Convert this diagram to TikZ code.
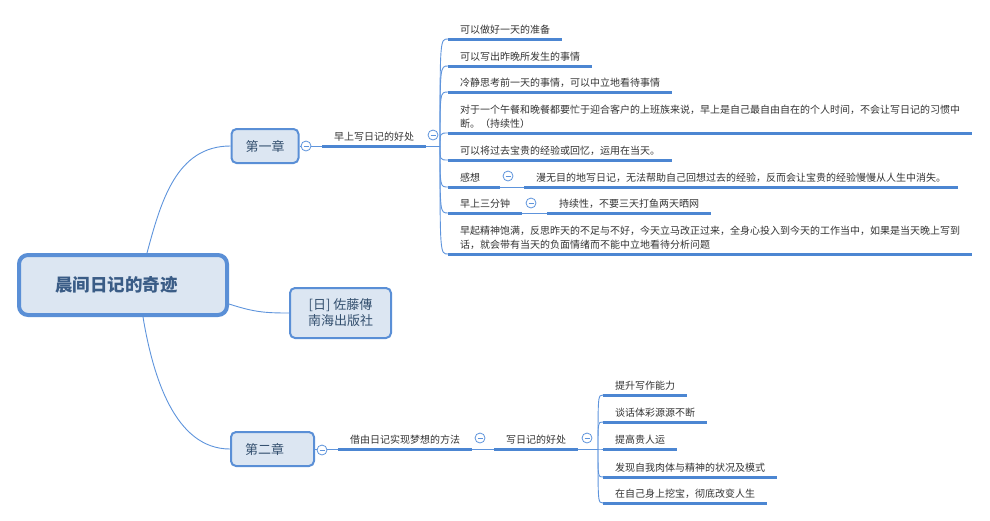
\documentclass[tikz,border=0pt]{standalone}
\usepackage{fontspec}
\setmainfont{Noto Sans CJK SC}
\usetikzlibrary{calc}

\definecolor{boxfill}{HTML}{DCE6F2}
\definecolor{boxline}{HTML}{5A8FD6}
\definecolor{boxtext}{HTML}{34506F}
\definecolor{roottext}{HTML}{3A5C86}
\definecolor{rulecol}{HTML}{4C86D2}
\definecolor{wirecol}{HTML}{5E94DC}
\definecolor{leaftext}{HTML}{333333}

\tikzset{
  rootbox/.style={draw=boxline, fill=boxfill, line width=4pt, rounded corners=9pt,
    minimum width=208pt, minimum height=60pt, inner xsep=36pt, text width=136pt, align=left,
    font=\fontsize{17.5}{20}\selectfont\bfseries, text=roottext},
  chapter/.style={draw=boxline, fill=boxfill, line width=2pt, rounded corners=5pt,
    minimum height=34pt, inner xsep=14pt, align=left,
    font=\fontsize{13}{16}\selectfont, text=boxtext},
  author/.style={chapter, align=center, minimum width=101pt, minimum height=50pt, inner xsep=6pt},
  note/.style={anchor=south west, inner xsep=12pt, inner ysep=4.5pt, align=left,
    font=\fontsize{10}{13.5}\selectfont, text=leaftext},
  leaf/.style={note, text height=8.8pt, text depth=1.2pt},
  uline/.style={draw=rulecol, line width=3pt},
  wire/.style={draw=wirecol, line width=0.9pt},
  fold/.style={circle, draw=wirecol, fill=white, line width=0.8pt, minimum size=10pt, inner sep=0pt,
    path picture={\draw[wirecol, line width=0.8pt]
      ([xshift=-2.5pt]path picture bounding box.center) -- ([xshift=2.5pt]path picture bounding box.center);}}
}

\begin{document}
\begin{tikzpicture}[x=1pt, y=-1pt]
\useasboundingbox (0,0) rectangle (990,520);

% main topic and chapters
\node[rootbox] (root) at (123,285) {晨间日记的奇迹};
\node[chapter, text width=39pt] (ch1) at (265,146) {第一章};
\node[chapter, text width=55pt] (ch2) at (272.5,449) {第二章};
\node[author] (auth) at (340.5,313) {[日] 佐藤傳\\南海出版社};

\draw[wire] ([xshift=24pt]root.north) .. controls +(14,-52) and +(-54,0) .. (ch1.west);
\draw[wire] ([xshift=20pt]root.south) .. controls +(10,60) and +(-55,0) .. (ch2.west);
\draw[wire] ([yshift=-19pt]root.east) .. controls +(25,8) and +(-25,0) .. (auth.west);

%---chapter 1---
\node[leaf] (h1) at (322,146) {早上写日记的好处};
\coordinate (hub1) at (440,146);

\node[leaf] (a1) at (448,39) {可以做好一天的准备};
\node[leaf] (a2) at (448,66) {可以写出昨晚所发生的事情};
\node[leaf] (a3) at (448,92) {冷静思考前一天的事情，可以中立地看待事情};
\node[note] (a4) at (448,133) {对于一个午餐和晚餐都要忙于迎合客户的上班族来说，早上是自己最自由自在的个人时间，不会让写日记的习惯中\\断。（持续性）};
\node[leaf] (a5) at (448,160) {可以将过去宝贵的经验或回忆，运用在当天。};
\node[leaf, text width=28pt] (a6) at (448,187) {感想};
\node[leaf] (a7) at (448,213) {早上三分钟};
\node[note] (a8) at (448,254) {早起精神饱满，反思昨天的不足与不好，今天立马改正过来，全身心投入到今天的工作当中，如果是当天晚上写到\\话，就会带有当天的负面情绪而不能中立地看待分析问题};

\node[leaf] (b6) at (524,187) {漫无目的地写日记，无法帮助自己回想过去的经验，反而会让宝贵的经验慢慢从人生中消失。};
\node[leaf] (b7) at (547,213) {持续性，不要三天打鱼两天晒网};

\draw[wire] (ch1.east) -- (h1.south west);
\draw[wire] (h1.south east) -- (hub1);
\foreach \i in {1,...,8}
  \draw[wire] (hub1) .. controls (hub1 |- a\i.south west) .. (a\i.south west);
\draw[wire] (a6.south east) -- (b6.south west);
\draw[wire] (a7.south east) -- (b7.south west);

%---chapter 2---
\node[leaf] (h2) at (338,449) {借由日记实现梦想的方法};
\node[leaf] (h3) at (494,449) {写日记的好处};
\coordinate (hub2) at (598,449);

\node[leaf] (c1) at (603,395) {提升写作能力};
\node[leaf] (c2) at (603,422) {谈话体彩源源不断};
\node[leaf] (c3) at (603,449) {提高贵人运};
\node[leaf] (c4) at (603,477) {发现自我肉体与精神的状况及模式};
\node[leaf] (c5) at (603,503) {在自己身上挖宝，彻底改变人生};

\draw[wire] (ch2.east) -- (h2.south west);
\draw[wire] (h2.south east) -- (h3.south west);
\draw[wire] (h3.south east) -- (hub2);
\foreach \i in {1,...,5}
  \draw[wire] (hub2) .. controls (hub2 |- c\i.south west) .. (c\i.south west);

% underlines
\foreach \n in {h1,a1,a2,a3,a4,a5,a6,a7,a8,b6,b7,h2,h3,c1,c2,c3,c4,c5}
  \draw[uline] (\n.south west) -- (\n.south east);

% fold marks
\node[fold] (f0) at (306,146) {};
\node[fold] (f1) at (433,135) {};
\node[fold] (f6) at (508,176) {};
\node[fold] (f7) at (531,203) {};
\node[fold] (g0) at (322,450) {};
\node[fold] (g1) at (480,438) {};
\node[fold] (g2) at (587,438) {};

\end{tikzpicture}
\end{document}
